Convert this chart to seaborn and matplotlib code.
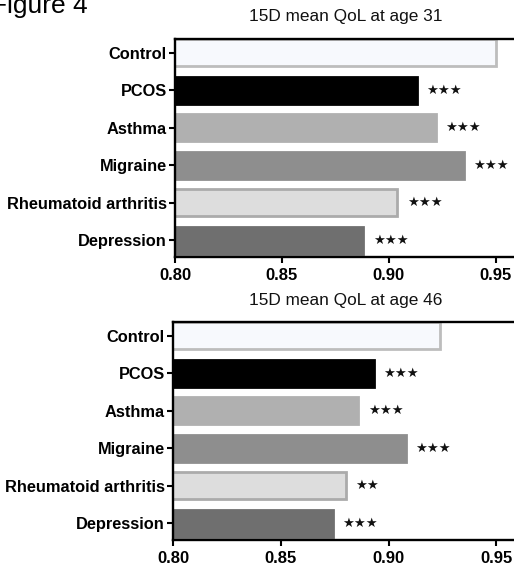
import matplotlib
matplotlib.use("Agg")
import matplotlib.pyplot as plt
import seaborn as sns
import pandas as pd

sns.set_style("ticks")
plt.rcParams["font.family"] = ["Liberation Sans", "DejaVu Sans"]
plt.rcParams["text.color"] = "black"
plt.rcParams["xtick.labelcolor"] = "black"
plt.rcParams["ytick.labelcolor"] = "black"

# Groups and 15D mean quality-of-life scores
groups = ["Control", "PCOS", "Asthma", "Migraine", "Rheumatoid arthritis", "Depression"]
qol_age31 = [0.950, 0.913, 0.922, 0.935, 0.904, 0.888]
qol_age46 = [0.924, 0.893, 0.886, 0.908, 0.880, 0.874]
signif_age31 = ["", "★★★", "★★★", "★★★", "★★★", "★★★"]
signif_age46 = ["", "★★★", "★★★", "★★★", "★★", "★★★"]
titles = ["15D mean QoL at age 31", "15D mean QoL at age 46"]
xticks = [0.80, 0.85, 0.90, 0.95]

fills = ["#f7f9fd", "#000000", "#b0b0b0", "#8e8e8e", "#dddddd", "#6f6f6f"]
edges = ["#bdbdbd", "#000000", "#b0b0b0", "#8e8e8e", "#ababab", "#6f6f6f"]

fig = plt.figure(figsize=(5.14, 5.65), dpi=100)
fig.text(-0.018, 1 - 13 / 565, "Figure 4", fontsize=19, va="baseline", ha="left")

panels = [
    (qol_age31, signif_age31, titles[0], [175 / 514, 1 - 257 / 565, 342 / 514, 218 / 565], 13),
    (qol_age46, signif_age46, titles[1], [173 / 514, 1 - 540 / 565, 345 / 514, 218 / 565], 12.5),
]

for values, signif, title, rect, tpad in panels:
    ax = fig.add_axes(rect)
    df = pd.DataFrame({"group": groups, "qol": values})
    sns.barplot(data=df, x="qol", y="group", hue="group", palette=fills,
                legend=False, orient="h", width=0.72, ax=ax, saturation=1)
    for patch, ec in zip(ax.patches, edges):
        patch.set_edgecolor(ec)
        patch.set_linewidth(2.0)
    for i, (v, s) in enumerate(zip(values, signif)):
        if s:
            ax.text(v + 0.0045, i, s, va="center", ha="left", fontsize=9.5,
                    family="DejaVu Sans", color="#111111")
    ax.set_xlim(0.80, 0.96)
    ax.set_ylim(5.45, -0.37)
    ax.set_xticks(xticks)
    ax.set_xticklabels([f"{t:.2f}" for t in xticks], fontsize=12, fontweight="bold")
    ax.set_yticks(range(len(groups)))
    ax.set_yticklabels(groups, fontsize=11.8, fontweight="bold")
    ax.set_xlabel("")
    ax.set_ylabel("")
    ax.set_title(title, fontsize=12.4, pad=tpad, color="#111111")
    for side in ["left", "bottom", "top"]:
        ax.spines[side].set_visible(True)
        ax.spines[side].set_linewidth(1.7)
        ax.spines[side].set_color("black")
    ax.spines["right"].set_visible(False)
    ax.tick_params(axis="y", length=4, width=1.5, color="black", pad=2)
    ax.tick_params(axis="x", length=4, width=1.5, color="black", pad=4)

fig.savefig("out.png", dpi=100, facecolor="white")
